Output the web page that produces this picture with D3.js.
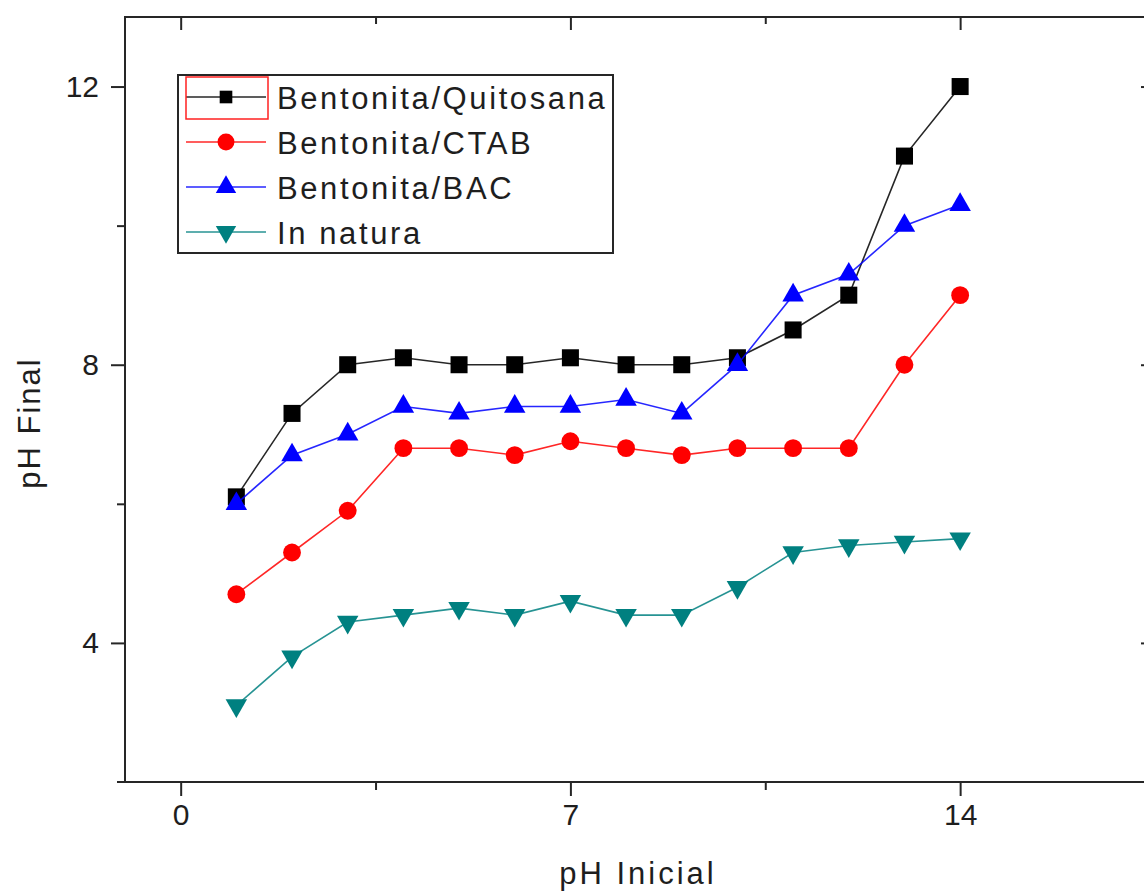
<!DOCTYPE html>
<html>
<head>
<meta charset="utf-8">
<script src="https://cdn.jsdelivr.net/npm/d3@7/dist/d3.min.js"></script>
<style>
    body { margin: 0; background: #fff; }
    svg { display: block; }
    text { font-family: Arial, "Liberation Sans", sans-serif; fill: #1e1e1e; }
</style>
</head>
<body>
<svg id="chart" width="1144" height="893"></svg>
<script>
"use strict";

// pH inicial (x) and pH final (y)
var phInicial = [1, 2, 3, 4, 5, 6, 7, 8, 9, 10, 11, 12, 13, 14];
var quitosana = [6.1, 7.3, 8.0, 8.1, 8.0, 8.0, 8.1, 8.0, 8.0, 8.1, 8.5, 9.0, 11.0, 12.0];
var ctab      = [4.7, 5.3, 5.9, 6.8, 6.8, 6.7, 6.9, 6.8, 6.7, 6.8, 6.8, 6.8, 8.0, 9.0];
var bac       = [6.0, 6.7, 7.0, 7.4, 7.3, 7.4, 7.4, 7.5, 7.3, 8.0, 9.0, 9.3, 10.0, 10.3];
var inNatura  = [3.1, 3.8, 4.3, 4.4, 4.5, 4.4, 4.6, 4.4, 4.4, 4.8, 5.3, 5.4, 5.45, 5.5];

var seriesNames = ['Bentonita/Quitosana', 'Bentonita/CTAB', 'Bentonita/BAC', 'In natura'];
var xTicks = [0, 7, 14];
var xMinorTicks = [3.5, 10.5];
var yTicks = [4, 8, 12];
var yMinorTicks = [6, 10];

var series = [
    { name: seriesNames[0], values: quitosana, color: '#000000', symbol: d3.symbolSquare, size: 290, rotate: 0 },
    { name: seriesNames[1], values: ctab, color: '#ff0000', symbol: d3.symbolCircle, size: 250, rotate: 0 },
    { name: seriesNames[2], values: bac, color: '#0000ff', symbol: d3.symbolTriangle, size: 200, rotate: 0 },
    { name: seriesNames[3], values: inNatura, color: '#008080', symbol: d3.symbolTriangle, size: 200, rotate: 180 }
];

var svg = d3.select('#chart');

var plotLeft = 125, plotRight = 1155, plotTop = 17, plotBottom = 782;

var x = d3.scaleLinear().domain([-1, 17.5]).range([plotLeft, plotRight]);
var y = d3.scaleLinear().domain([2, 13]).range([plotBottom, plotTop]);

var axisColor = '#262626';

function styleAxis(g) {
    g.select('.domain').remove();
    g.selectAll('.tick line').attr('stroke', axisColor).attr('stroke-width', 2);
    g.selectAll('.tick text').attr('fill', '#1e1e1e');
}

// bottom axis, major + minor
svg.append('g')
    .attr('transform', 'translate(0,' + plotBottom + ')')
    .call(d3.axisBottom(x).tickValues(xTicks).tickSize(14).tickPadding(8).tickFormat(d3.format('d')))
    .call(styleAxis)
    .selectAll('.tick text')
    .style('font-size', '30px');

svg.append('g')
    .attr('transform', 'translate(0,' + plotBottom + ')')
    .call(d3.axisBottom(x).tickValues(xMinorTicks).tickSize(8).tickFormat(''))
    .call(styleAxis);

// left axis, major + minor
svg.append('g')
    .attr('transform', 'translate(' + plotLeft + ',0)')
    .call(d3.axisLeft(y).tickValues(yTicks).tickSize(14).tickPadding(12).tickFormat(d3.format('d')))
    .call(styleAxis)
    .selectAll('.tick text')
    .style('font-size', '30px');

svg.append('g')
    .attr('transform', 'translate(' + plotLeft + ',0)')
    .call(d3.axisLeft(y).tickValues(yMinorTicks).tickSize(8).tickFormat(''))
    .call(styleAxis);

// top axis, ticks pointing into the plot
svg.append('g')
    .attr('transform', 'translate(0,' + plotTop + ')')
    .call(d3.axisTop(x).tickValues(xTicks).tickSize(-13).tickFormat(''))
    .call(styleAxis);

svg.append('g')
    .attr('transform', 'translate(0,' + plotTop + ')')
    .call(d3.axisTop(x).tickValues(xMinorTicks).tickSize(-7).tickFormat(''))
    .call(styleAxis);

// right axis (sits just past the picture edge), ticks pointing left
svg.append('g')
    .attr('transform', 'translate(' + plotRight + ',0)')
    .call(d3.axisRight(y).tickValues(yTicks).tickSize(-14).tickFormat(''))
    .call(styleAxis);

svg.append('g')
    .attr('transform', 'translate(' + plotRight + ',0)')
    .call(d3.axisRight(y).tickValues(yMinorTicks).tickSize(-8).tickFormat(''))
    .call(styleAxis);

// frame
svg.append('path')
    .attr('d', 'M' + (plotLeft - 8) + ',' + plotBottom + 'H' + plotRight +
        'M' + plotLeft + ',' + plotBottom + 'V' + plotTop + 'H' + plotRight + 'V' + plotBottom)
    .attr('fill', 'none')
    .attr('stroke', axisColor)
    .attr('stroke-width', 2);

// axis titles
svg.append('text')
    .attr('x', 638)
    .attr('y', 884)
    .attr('text-anchor', 'middle')
    .style('font-size', '31px')
    .style('letter-spacing', '3px')
    .text('pH Inicial');

svg.append('text')
    .attr('transform', 'translate(40,423) rotate(-90)')
    .attr('text-anchor', 'middle')
    .style('font-size', '31px')
    .style('letter-spacing', '2px')
    .text('pH Final');

// lines and markers
var line = d3.line()
    .x(function (d, i) { return x(phInicial[i]); })
    .y(function (d) { return y(d); });

var seriesG = svg.selectAll('.series')
    .data(series)
    .enter()
    .append('g')
    .classed('series', true);

seriesG.append('path')
    .attr('d', function (s) { return line(s.values); })
    .attr('fill', 'none')
    .attr('stroke', function (s) { return s.color; })
    .attr('stroke-opacity', 0.85)
    .attr('stroke-width', 1.6);

seriesG.each(function (s) {
    d3.select(this).selectAll('.marker')
        .data(s.values)
        .enter()
        .append('path')
        .classed('marker', true)
        .attr('d', d3.symbol().type(s.symbol).size(s.size))
        .attr('transform', function (d, i) {
            return 'translate(' + x(phInicial[i]) + ',' + y(d) + ') rotate(' + s.rotate + ')';
        })
        .attr('fill', s.color);
});

// legend
var legX = 178, legY = 75, legW = 435, legH = 178, rowH = 45;

var legend = svg.append('g').attr('transform', 'translate(' + legX + ',' + legY + ')');

legend.append('rect')
    .attr('width', legW)
    .attr('height', legH)
    .attr('fill', '#fff')
    .attr('stroke', axisColor)
    .attr('stroke-width', 2);

var rows = legend.selectAll('.legRow')
    .data(series)
    .enter()
    .append('g')
    .classed('legRow', true)
    .attr('transform', function (s, i) { return 'translate(0,' + (22 + i * rowH) + ')'; });

rows.append('line')
    .attr('x1', 8)
    .attr('x2', 88)
    .attr('stroke', function (s) { return s.color; })
    .attr('stroke-opacity', 0.85)
    .attr('stroke-width', 1.6);

rows.append('path')
    .attr('d', function (s) {
        return d3.symbol().type(s.symbol).size(s.size * (s.symbol === d3.symbolSquare ? 0.55 : 0.9))();
    })
    .attr('transform', function (s) { return 'translate(48,0) rotate(' + s.rotate + ')'; })
    .attr('fill', function (s) { return s.color; });

rows.append('text')
    .attr('x', 99)
    .attr('y', 12)
    .style('font-size', '31px')
    .style('letter-spacing', '2.6px')
    .text(function (s) { return s.name; });

// selection box round the first legend symbol
legend.append('rect')
    .attr('x', 8)
    .attr('y', 2)
    .attr('width', 82)
    .attr('height', 42)
    .attr('fill', 'none')
    .attr('stroke', '#ff2020')
    .attr('stroke-width', 1.5);
</script>
</body>
</html>
